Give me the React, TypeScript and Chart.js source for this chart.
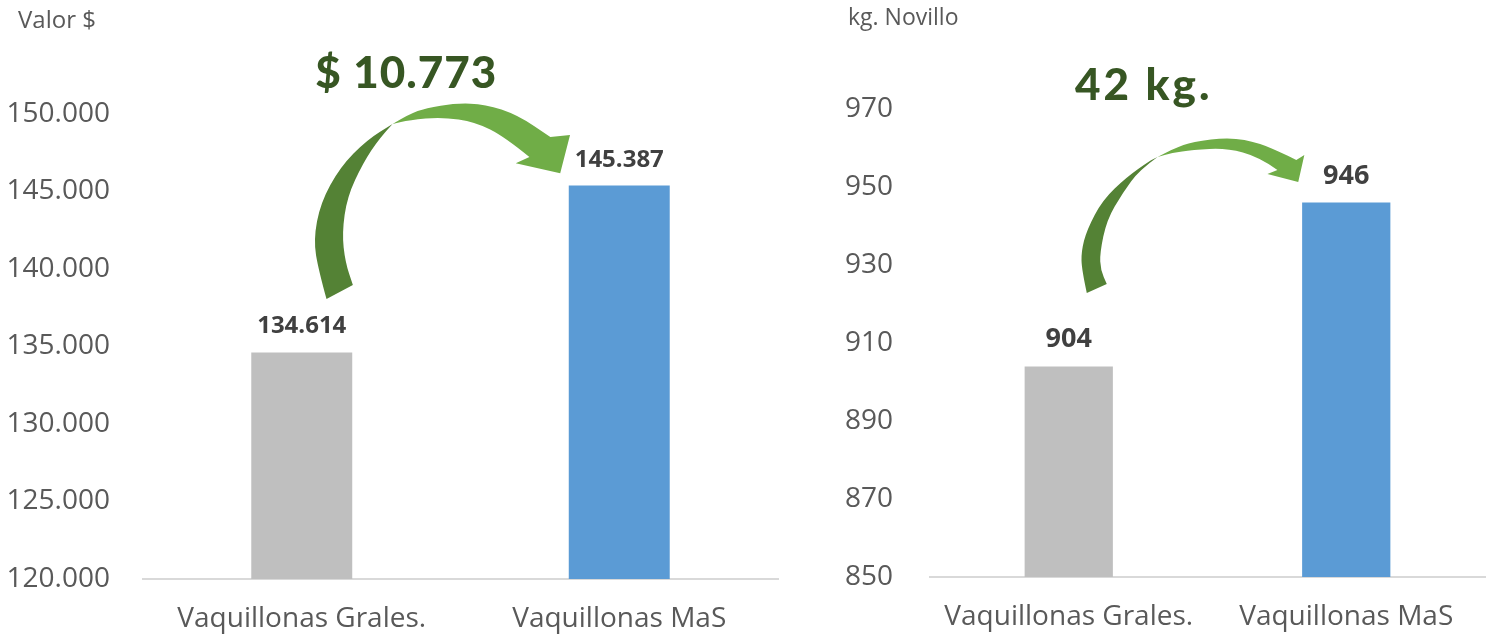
import React, { useEffect, useRef } from "react";
import { Chart, registerables } from "chart.js";

Chart.register(...registerables);

// ---------- data ----------
const categories = ["Vaquillonas Grales.", "Vaquillonas MaS"];
const valorValues = [134614, 145387];
const kgValues = [904, 946];
const barColors = ["#BFBFBF", "#5B9BD5"];

const valorMin = 120000;
const valorMax = 150000;
const valorStep = 5000;
const kgMin = 850;
const kgMax = 970;
const kgStep = 20;

const valorTitle = "Valor $";
const kgTitle = "kg. Novillo";
const valorDiffLabel = "$ 10.773";
const kgDiffLabel = "42 kg.";

// arrow outlines in a frame: u = 0 at first bar centre, 1 at second; w = 0 at first bar top, 1 at second bar top
type Pt = [number, number];
const valorArrowDarkOuter: Pt[] = [[0.078, 0.32], [0.053, 0.493], [0.037, 0.673], [0.059, 0.895], [0.121, 1.11], [0.205, 1.272], [0.286, 1.368]];
const valorArrowDarkInner: Pt[] = [[0.286, 1.368], [0.245, 1.284], [0.193, 1.134], [0.143, 0.931], [0.127, 0.715], [0.137, 0.541], [0.161, 0.404]];
const valorArrowLightOuter: Pt[] = [[0.286, 1.368], [0.339, 1.428], [0.391, 1.463], [0.484, 1.493], [0.578, 1.487], [0.68, 1.422], [0.783, 1.29]];
const valorArrowHead: Pt[] = [[0.845, 1.302], [0.814, 1.074], [0.674, 1.134], [0.717, 1.17]];
const valorArrowLightInner: Pt[] = [[0.717, 1.17], [0.64, 1.29], [0.547, 1.38], [0.441, 1.41], [0.339, 1.392], [0.286, 1.368]];

const kgArrowDarkOuter: Pt[] = [[0.065, 0.448], [0.047, 0.589], [0.045, 0.7], [0.065, 0.833], [0.122, 1.016], [0.209, 1.156], [0.291, 1.254], [0.32, 1.278]];
const kgArrowDarkInner: Pt[] = [[0.32, 1.278], [0.255, 1.199], [0.194, 1.059], [0.137, 0.894], [0.112, 0.692], [0.115, 0.589], [0.137, 0.503]];
const kgArrowLightOuter: Pt[] = [[0.32, 1.278], [0.381, 1.333], [0.446, 1.37], [0.579, 1.4], [0.687, 1.364], [0.784, 1.291], [0.82, 1.26]];
const kgArrowHead: Pt[] = [[0.849, 1.291], [0.827, 1.126], [0.716, 1.175], [0.752, 1.199]];
const kgArrowLightInner: Pt[] = [[0.752, 1.199], [0.687, 1.278], [0.568, 1.333], [0.446, 1.321], [0.371, 1.303], [0.32, 1.278]];

// ---------- helpers ----------
const FONT = '"Open Sans", "Liberation Sans", sans-serif';
const BIG_FONT = 'Lato, "Open Sans", sans-serif';

const fmt = (v: number) => String(Math.round(v)).replace(/\B(?=(\d{3})+(?!\d))/g, ".");

type XY = { x: number; y: number };

function smooth(ctx: CanvasRenderingContext2D, pts: XY[], move: boolean) {
  if (move) ctx.moveTo(pts[0].x, pts[0].y);
  else ctx.lineTo(pts[0].x, pts[0].y);
  for (let i = 1; i < pts.length - 1; i++) {
    const mx = (pts[i].x + pts[i + 1].x) / 2;
    const my = (pts[i].y + pts[i + 1].y) / 2;
    ctx.quadraticCurveTo(pts[i].x, pts[i].y, mx, my);
  }
  const last = pts[pts.length - 1];
  ctx.lineTo(last.x, last.y);
}

type PanelProps = {
  left: number;
  width: number;
  values: number[];
  min: number;
  max: number;
  step: number;
  title: string;
  titleSize: number;
  titleOffset: number;
  titleY: number;
  diffLabel: string;
  diffU: number;
  diffAbove: number;
  diffSpacing: number;
  dataLabelSize: number;
  topPad: number;
  xAxisHeight: number;
  yAxisWidth: number;
  yTickPadding: number;
  darkOuter: Pt[];
  darkInner: Pt[];
  lightOuter: Pt[];
  head: Pt[];
  lightInner: Pt[];
};

function Panel(p: PanelProps) {
  const ref = useRef<HTMLCanvasElement | null>(null);

  useEffect(() => {
    const canvas = ref.current;
    if (!canvas) return;

    const overlay = {
      id: "overlay",
      afterDatasetsDraw(chart: any) {
        const ctx: CanvasRenderingContext2D = chart.ctx;
        const xs = chart.scales.x;
        const ys = chart.scales.y;
        const area = chart.chartArea;
        const meta = chart.getDatasetMeta(0);

        ctx.save();
        // value labels above bars
        ctx.font = `bold ${p.dataLabelSize}px ${FONT}`;
        ctx.fillStyle = "#404040";
        ctx.textAlign = "center";
        ctx.textBaseline = "alphabetic";
        meta.data.forEach((bar: any, i: number) => {
          ctx.fillText(fmt(p.values[i]), bar.x, bar.y - 19);
        });

        // curved arrow
        const x0 = xs.getPixelForValue(0);
        const x1 = xs.getPixelForValue(1);
        const y0 = ys.getPixelForValue(p.values[0]);
        const y1 = ys.getPixelForValue(p.values[1]);
        const map = (q: Pt): XY => ({ x: x0 + q[0] * (x1 - x0), y: y0 - q[1] * (y0 - y1) });

        ctx.beginPath();
        smooth(ctx, p.darkOuter.map(map), true);
        smooth(ctx, p.darkInner.map(map), false);
        ctx.closePath();
        ctx.fillStyle = "#548235";
        ctx.fill();

        ctx.beginPath();
        smooth(ctx, p.lightOuter.map(map), true);
        p.head.map(map).forEach((h) => ctx.lineTo(h.x, h.y));
        smooth(ctx, p.lightInner.map(map), false);
        ctx.closePath();
        ctx.fillStyle = "#70AD47";
        ctx.fill();

        // difference label
        ctx.font = `900 44px ${BIG_FONT}`;
        (ctx as any).letterSpacing = `${p.diffSpacing}px`;
        ctx.fillStyle = "#375623";
        ctx.textAlign = "center";
        ctx.fillText(p.diffLabel, x0 + p.diffU * (x1 - x0), area.top - p.diffAbove);
        (ctx as any).letterSpacing = "0px";

        // axis title
        ctx.font = `${p.titleSize}px ${FONT}`;
        ctx.fillStyle = "#595959";
        ctx.textAlign = "left";
        ctx.textBaseline = "middle";
        ctx.fillText(p.title, area.left - p.titleOffset, p.titleY);
        ctx.restore();
      },
    };

    const chart = new Chart(canvas, {
      type: "bar",
      data: {
        labels: categories,
        datasets: [
          {
            data: p.values,
            backgroundColor: barColors,
            borderWidth: 0,
            categoryPercentage: 1,
            barPercentage: 0.318,
          },
        ],
      },
      options: {
        responsive: false,
        animation: false,
        devicePixelRatio: 1,
        layout: { padding: { top: p.topPad, right: 12, left: 0, bottom: 0 } },
        plugins: {
          legend: { display: false },
          tooltip: { enabled: false },
          title: { display: false },
        },
        scales: {
          x: {
            grid: { display: false, drawTicks: false },
            border: { display: true, color: "#D9D9D9", width: 2 },
            ticks: {
              font: { family: FONT, size: 28 },
              color: "#595959",
              padding: 23,
              maxRotation: 0,
              autoSkip: false,
            },
            afterFit: (s: any) => {
              s.height = p.xAxisHeight;
            },
          },
          y: {
            min: p.min,
            max: p.max,
            grid: { display: false, drawTicks: false },
            border: { display: false },
            ticks: {
              stepSize: p.step,
              font: { family: FONT, size: 28 },
              color: "#595959",
              padding: p.yTickPadding,
              callback: (v: any) => fmt(Number(v)),
            },
            afterFit: (s: any) => {
              s.width = p.yAxisWidth;
            },
          },
        },
      },
      plugins: [overlay],
    });

    return () => chart.destroy();
  }, []);

  return (
    <canvas
      ref={ref}
      width={p.width}
      height={639}
      style={{ position: "absolute", left: p.left, top: 0, width: p.width, height: 639, display: "block" }}
    />
  );
}

export default function App() {
  return (
    <div style={{ position: "absolute", left: 0, top: 0, width: 1497, height: 639, background: "#fff", overflow: "hidden" }}>
      <Panel
        left={0}
        width={790}
        values={valorValues}
        min={valorMin}
        max={valorMax}
        step={valorStep}
        title={valorTitle}
        titleSize={24}
        titleOffset={125}
        titleY={21}
        diffLabel={valorDiffLabel}
        diffU={0.329}
        diffAbove={26}
        diffSpacing={1}
        dataLabelSize={24}
        topPad={114}
        xAxisHeight={60}
        yAxisWidth={143}
        yTickPadding={33}
        darkOuter={valorArrowDarkOuter}
        darkInner={valorArrowDarkInner}
        lightOuter={valorArrowLightOuter}
        head={valorArrowHead}
        lightInner={valorArrowLightInner}
      />
      <Panel
        left={800}
        width={697}
        values={kgValues}
        min={kgMin}
        max={kgMax}
        step={kgStep}
        title={kgTitle}
        titleSize={23}
        titleOffset={82}
        titleY={18}
        diffLabel={kgDiffLabel}
        diffU={0.27}
        diffAbove={9}
        diffSpacing={3}
        dataLabelSize={27}
        topPad={109}
        xAxisHeight={62}
        yAxisWidth={130}
        yTickPadding={37}
        darkOuter={kgArrowDarkOuter}
        darkInner={kgArrowDarkInner}
        lightOuter={kgArrowLightOuter}
        head={kgArrowHead}
        lightInner={kgArrowLightInner}
      />
    </div>
  );
}
